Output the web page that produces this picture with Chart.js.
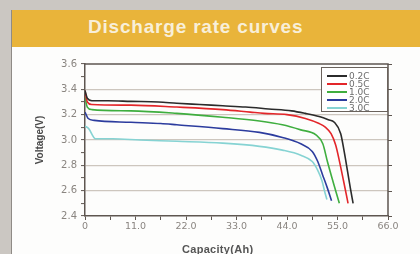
<!DOCTYPE html>
<html><head><meta charset="utf-8">
<script src="https://cdn.jsdelivr.net/npm/chart.js@4.4.1/dist/chart.umd.min.js"></script>
<style>
html,body{margin:0;padding:0;width:420px;height:254px;overflow:hidden;background:#cbc7c2;}
#panel{position:absolute;left:11px;top:10px;width:409px;height:250px;background:#fdfdfc;border-left:1px solid #8f8b86;}
#hdr{position:absolute;left:12px;top:10px;width:408px;height:37px;background:#e9b43a;}
#hdr span{position:absolute;left:76px;top:6px;font:bold 19px "Liberation Sans",Arial,sans-serif;color:#f8efd9;letter-spacing:0.8px;}
#xt{position:absolute;left:182px;top:243px;font:bold 11px "Liberation Sans",Arial,sans-serif;color:#555;letter-spacing:0.3px;}
#wrap{position:absolute;left:0;top:0;width:420px;height:262px;}
</style></head>
<body>
<div id="panel"></div>
<div id="hdr"><span>Discharge rate curves</span></div>
<div id="wrap"><canvas id="c" width="420" height="262"></canvas></div>
<div id="xt">Capacity(Ah)</div>
<script>
const seriesLabels = ['0.2C','0.5C','1.0C','2.0C','3.0C'];
const seriesColors = ['#2b2b2b','#e3262a','#3fae3f','#2c3c9e','#86d3d3'];

const cap02 = [0,0.5,1.5,5,10,16,20,25,30,35,40,45,48,51,53,54.3,55.7,56.5,57.2,57.8,58.4];
const v02   = [3.39,3.33,3.31,3.31,3.305,3.30,3.29,3.28,3.27,3.26,3.245,3.23,3.21,3.185,3.16,3.14,3.05,2.9,2.75,2.62,2.5];

const cap05 = [0,0.5,1.5,10,20,30,36,39,44,48,51,52.4,53.6,54.6,55.5,56.3,57.3];
const v05   = [3.39,3.30,3.28,3.275,3.26,3.24,3.22,3.21,3.20,3.17,3.13,3.10,3.05,2.96,2.82,2.68,2.5];

const cap10 = [0,0.5,1.5,10,20,30,38,43,47,50.3,51.8,52.8,53.8,54.6,55.4];
const v10   = [3.34,3.26,3.24,3.23,3.21,3.18,3.15,3.12,3.08,3.04,2.97,2.83,2.70,2.60,2.5];

const cap20 = [0,0.7,2,10,16.5,20,30,38,43,47,49.5,50.7,51.7,52.8,53.7];
const v20   = [3.22,3.17,3.155,3.14,3.13,3.12,3.09,3.06,3.02,2.97,2.91,2.83,2.73,2.62,2.52];

const cap30 = [0,0.8,2.3,6,12,20,30,38,43,47,49.5,50.7,51.6,52.3,52.7];
const v30   = [3.11,3.09,3.01,3.01,3.00,2.99,2.975,2.95,2.92,2.88,2.83,2.76,2.68,2.58,2.53];

const capArrays = [cap02,cap05,cap10,cap20,cap30];
const voltArrays = [v02,v05,v10,v20,v30];

const xMin = 0, xMax = 66, xStep = 5.5;
const yMin = 2.4, yMax = 3.6, yStep = 0.1;

const datasets = seriesLabels.map((lab,i)=>({
  label: lab,
  data: capArrays[i].map((x,j)=>({x:x,y:voltArrays[i][j]})),
  borderColor: seriesColors[i],
  borderWidth: 1.6,
  pointRadius: 0,
  fill: false,
  cubicInterpolationMode: 'monotone'
}));

const AXIS = '#5e5650';
const frameLegend = {
  id:'frameLegend',
  afterDatasetsDraw(chart){
    const {ctx, chartArea:a} = chart;
    ctx.save();
    ctx.strokeStyle = AXIS; ctx.lineWidth = 1.5;
    ctx.beginPath();
    ctx.moveTo(a.left, a.top); ctx.lineTo(a.right, a.top); ctx.lineTo(a.right, a.bottom);
    ctx.stroke();
    const ys = chart.scales.y;
    ctx.lineWidth = 1;
    for (let k=0;k<=6;k++){
      const yy = Math.round(ys.getPixelForValue(yMin + k*0.2))+0.5;
      ctx.beginPath(); ctx.moveTo(a.right, yy); ctx.lineTo(a.right+4, yy); ctx.stroke();
    }
    const bx = a.right-67, by = a.top+3, bw = 67, bh = 45;
    ctx.fillStyle = '#ffffff';
    ctx.fillRect(bx, by, bw, bh);
    ctx.strokeStyle = '#6a625c'; ctx.lineWidth = 1;
    ctx.strokeRect(bx+0.5, by+0.5, bw-1, bh-1);
    ctx.font = '9px "DejaVu Sans", sans-serif';
    ctx.textBaseline = 'middle';
    chart.data.datasets.forEach((ds,i)=>{
      const yy = by + 9 + i*8;
      ctx.strokeStyle = ds.borderColor; ctx.lineWidth = 2;
      ctx.beginPath(); ctx.moveTo(bx+6, yy); ctx.lineTo(bx+26, yy); ctx.stroke();
      ctx.fillStyle = '#6d6d6d';
      ctx.fillText(ds.label, bx+28, yy+0.5);
    });
    ctx.restore();
  }
};

new Chart(document.getElementById('c'), {
  type: 'line',
  data: { datasets },
  plugins: [frameLegend],
  options: {
    responsive: false,
    animation: false,
    layout: { padding: { left: 30, right: 32, top: 64, bottom: 0 } },
    plugins: { legend: { display: false }, tooltip: { enabled: false } },
    scales: {
      x: {
        type: 'linear', min: xMin, max: xMax,
        afterFit(s){ s.height = 46; },
        border: { color: AXIS, width: 1.5 },
        grid: { drawOnChartArea: false, tickLength: 4, tickColor: AXIS, tickWidth: 1 },
        ticks: {
          stepSize: xStep, autoSkip: false, maxRotation: 0, padding: 1,
          color: '#8a8580', font: { family: '"DejaVu Sans", sans-serif', size: 9.5 },
          callback(v){ const n = Math.round(v/xStep); if (n % 2) return ''; return v === 0 ? '0' : v.toFixed(1); }
        }
      },
      y: {
        type: 'linear', min: yMin, max: yMax,
        afterFit(s){ s.width = 55; },
        border: { color: AXIS, width: 1.5 },
        grid: {
          tickLength: 4, tickColor: AXIS, tickWidth: 1, lineWidth: 1.2,
          color(ctx){
            if (!ctx.tick) return 'rgba(0,0,0,0)';
            const n = Math.round((ctx.tick.value - yMin)/yStep);
            if (n % 2 || n === 0 || n === 12) return 'rgba(0,0,0,0)';
            return '#cdc6be';
          }
        },
        ticks: {
          stepSize: yStep, autoSkip: false, padding: 4,
          color: '#8a8580', font: { family: '"DejaVu Sans", sans-serif', size: 10 },
          callback(v){ const n = Math.round((v - yMin)/yStep); return (n % 2) ? '' : v.toFixed(1); }
        },
        title: { display: true, text: 'Voltage(V)', color: '#4a4a4a', padding: { top: 4, bottom: 0 },
          font: { family: '"Liberation Sans", Arial, sans-serif', size: 10, weight: 'bold' } }
      }
    }
  }
});
</script>
</body></html>
